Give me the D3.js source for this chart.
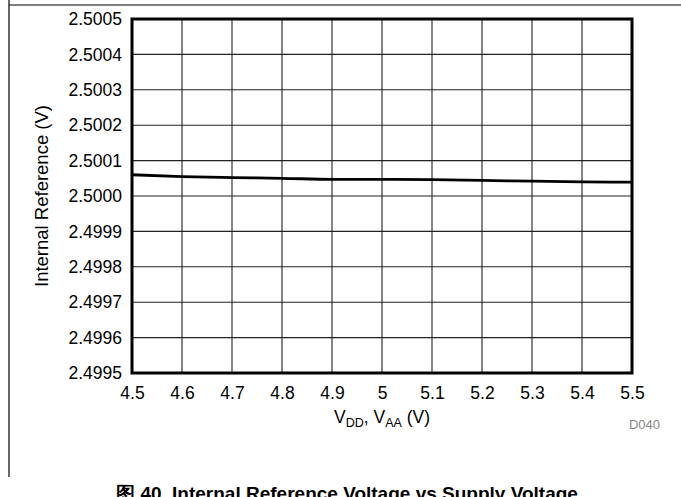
<!DOCTYPE html>
<html><head><meta charset="utf-8">
<script src="https://cdn.jsdelivr.net/npm/d3@7"></script>
<style>body{margin:0;background:#fff}svg{display:block}</style>
</head><body>
<script>
const xTicks = [4.5, 4.6, 4.7, 4.8, 4.9, 5.0, 5.1, 5.2, 5.3, 5.4, 5.5];
const xTickLabels = ["4.5","4.6","4.7","4.8","4.9","5","5.1","5.2","5.3","5.4","5.5"];
const yTicks = [2.4995, 2.4996, 2.4997, 2.4998, 2.4999, 2.5000, 2.5001, 2.5002, 2.5003, 2.5004, 2.5005];
const yTickLabels = ["2.4995","2.4996","2.4997","2.4998","2.4999","2.5000","2.5001","2.5002","2.5003","2.5004","2.5005"];
const supplyV = [4.5, 4.6, 4.7, 4.8, 4.9, 5.0, 5.1, 5.2, 5.3, 5.4, 5.5];
const refV = [2.500060, 2.500055, 2.500052, 2.500050, 2.500047, 2.500047, 2.500046, 2.500044, 2.500042, 2.500040, 2.500039];

const W = 681, H = 497;
const L = 132, R = 632, T = 19, B = 373;
const font = "'Liberation Sans', Arial, sans-serif";

const svg = d3.select("body").append("svg").attr("width", W).attr("height", H);
const x = d3.scaleLinear().domain([4.5, 5.5]).range([L, R]);
const y = d3.scaleLinear().domain([2.4995, 2.5005]).range([B, T]);

// page frame lines
svg.append("line").attr("x1", 9).attr("x2", W).attr("y1", 5).attr("y2", 5).attr("stroke", "#000").attr("stroke-width", 1.2);
svg.append("line").attr("x1", 9).attr("x2", 9).attr("y1", 0).attr("y2", 477).attr("stroke", "#000").attr("stroke-width", 1.2);

// grid
const g = svg.append("g");
g.selectAll(".vg").data(xTicks.slice(1, -1)).enter().append("line")
  .attr("x1", d => x(d)).attr("x2", d => x(d)).attr("y1", T).attr("y2", B)
  .attr("stroke", "#222").attr("stroke-width", 1.1);
g.selectAll(".hg").data(yTicks.slice(1, -1)).enter().append("line")
  .attr("y1", d => y(d)).attr("y2", d => y(d)).attr("x1", L).attr("x2", R)
  .attr("stroke", "#222").attr("stroke-width", 1.1);

// axes (labels only)
const xAxis = d3.axisBottom(x).tickValues(xTicks).tickFormat((d, i) => xTickLabels[i]).tickSize(0).tickPadding(14);
const yAxis = d3.axisLeft(y).tickValues(yTicks).tickFormat((d, i) => yTickLabels[i]).tickSize(0).tickPadding(10);
const gx = svg.append("g").attr("transform", `translate(0,${B})`).call(xAxis);
const gy = svg.append("g").attr("transform", `translate(${L},0)`).call(yAxis);
[gx, gy].forEach(a => {
  a.select(".domain").remove();
  a.selectAll("text").attr("font-family", font).attr("font-size", "17.5px").attr("fill", "#000");
});

// data line
svg.append("path").datum(supplyV.map((v, i) => [v, refV[i]]))
  .attr("fill", "none").attr("stroke", "#000").attr("stroke-width", 2.8)
  .attr("d", d3.line().x(d => x(d[0])).y(d => y(d[1])).curve(d3.curveMonotoneX));

// border
svg.append("rect").attr("x", L).attr("y", T).attr("width", R - L).attr("height", B - T)
  .attr("fill", "none").attr("stroke", "#000").attr("stroke-width", 3);

// axis titles
svg.append("text").attr("transform", `translate(48,${(T + B) / 2}) rotate(-90)`)
  .attr("text-anchor", "middle").attr("font-family", font).attr("font-size", "18.5px")
  .text("Internal Reference (V)");

const xt = svg.append("text").attr("x", (L + R) / 2).attr("y", 423).attr("text-anchor", "middle")
  .attr("font-family", font).attr("font-size", "17.5px");
xt.append("tspan").text("V");
xt.append("tspan").attr("font-size", "12.5px").attr("dy", 4).text("DD");
xt.append("tspan").attr("dy", -4).text(", V");
xt.append("tspan").attr("font-size", "12.5px").attr("dy", 4).text("AA");
xt.append("tspan").attr("dy", -4).text(" (V)");

svg.append("text").attr("x", 660).attr("y", 429).attr("text-anchor", "end")
  .attr("font-family", font).attr("font-size", "13px").attr("fill", "#888").text("D040");

// caption
svg.append("text").attr("x", 347).attr("y", 500).attr("text-anchor", "middle")
  .attr("font-family", font).attr("font-size", "19px").attr("font-weight", "bold")
  .text("图 40. Internal Reference Voltage vs Supply Voltage");
</script>
</body></html>
